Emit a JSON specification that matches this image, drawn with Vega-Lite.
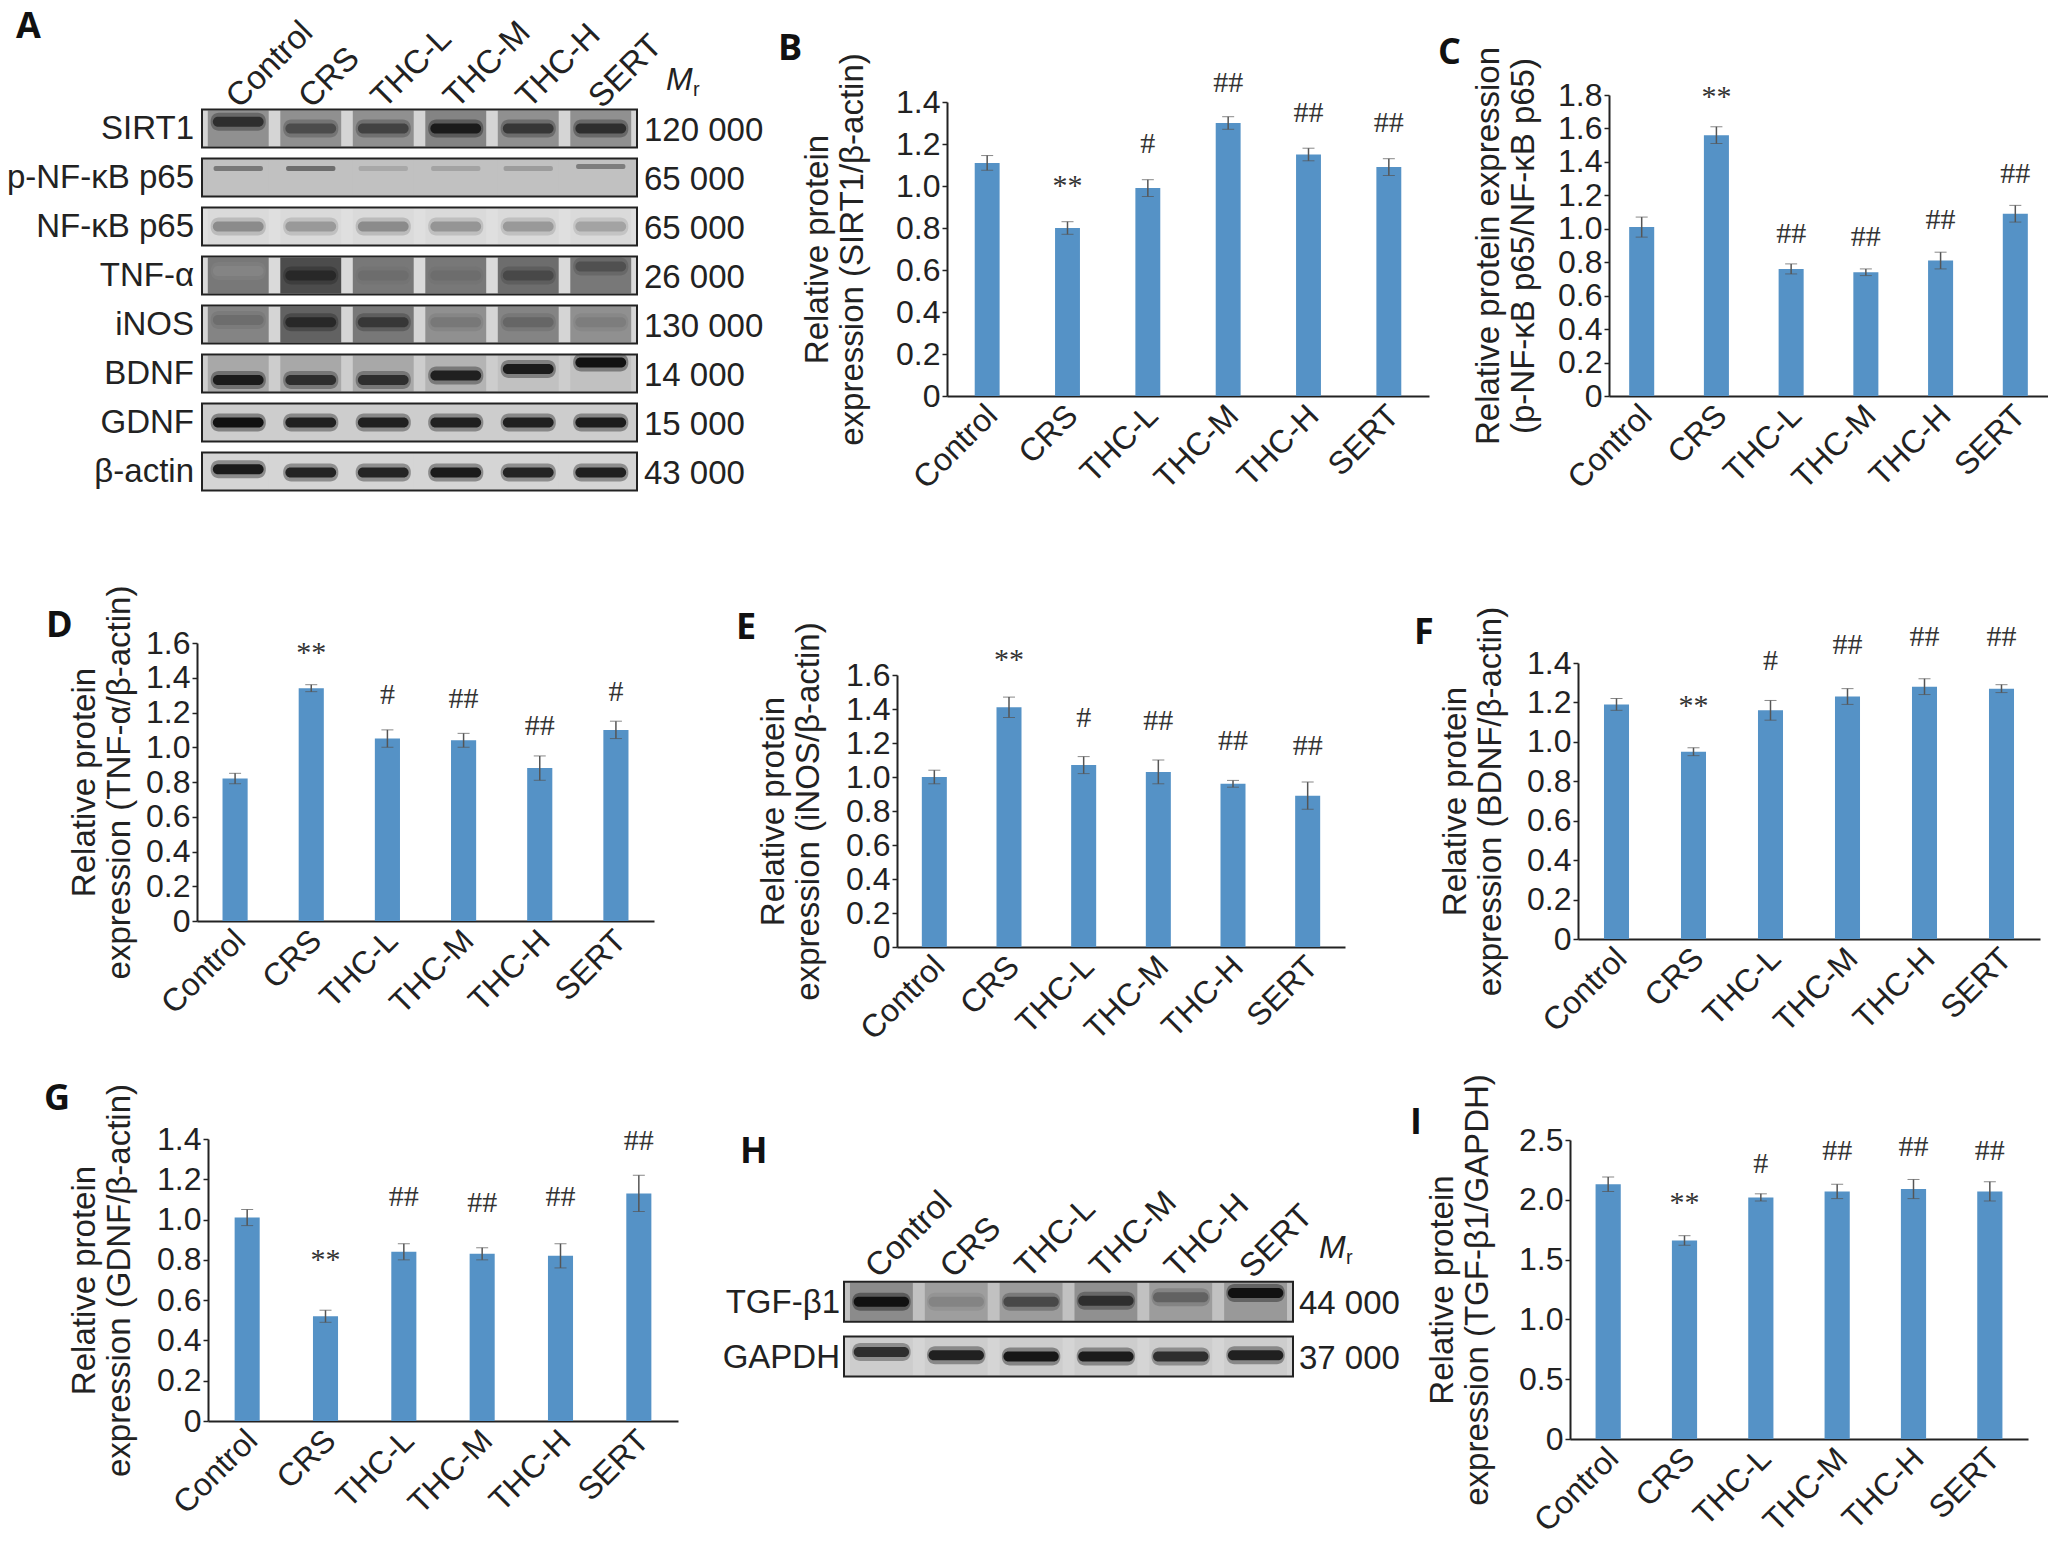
{
  "$schema": "https://vega.github.io/schema/vega-lite/v6.json",
  "description": "Western blots and relative protein expression for nine panels.",
  "padding": 0,
  "background": "white",
  "bounds": "flush",
  "align": "each",
  "columns": 3,
  "spacing": 0,
  "config": {
    "font": "Liberation Sans",
    "view": {"stroke": null},
    "title": {"font": "Open Sans", "fontSize": 36, "fontWeight": "bold", "anchor": "start", "frame": "group", "color": "#111", "baseline": "bottom"},
    "axis": {"grid": false, "labelFont": "Liberation Sans", "titleFont": "Liberation Sans", "labelFontSize": 32, "titleFontSize": 33, "titleFontWeight": "normal", "labelColor": "#222", "titleColor": "#222", "domainColor": "#222", "domainWidth": 2, "tickColor": "#222", "tickWidth": 1.5, "tickSize": 5, "labelOverlap": false, "labelBound": false},
    "axisX": {"labelAngle": -45, "labelAlign": "right", "labelBaseline": "middle", "ticks": false, "labelPadding": 14, "labelFontSize": 32, "labelOffset": 5}
  },
  "datasets": {
    "b": [
      {"group": "Control", "value": 1.11, "err": 0.035, "sig": "", "sig_y": 1.3},
      {"group": "CRS", "value": 0.8, "err": 0.03, "sig": "**", "sig_y": 1.0},
      {"group": "THC-L", "value": 0.99, "err": 0.04, "sig": "#", "sig_y": 1.2},
      {"group": "THC-M", "value": 1.3, "err": 0.03, "sig": "##", "sig_y": 1.49},
      {"group": "THC-H", "value": 1.15, "err": 0.03, "sig": "##", "sig_y": 1.35},
      {"group": "SERT", "value": 1.09, "err": 0.04, "sig": "##", "sig_y": 1.3}
    ],
    "c": [
      {"group": "Control", "value": 1.01, "err": 0.06, "sig": "", "sig_y": 1.2},
      {"group": "CRS", "value": 1.56, "err": 0.05, "sig": "**", "sig_y": 1.79},
      {"group": "THC-L", "value": 0.76, "err": 0.03, "sig": "##", "sig_y": 0.97},
      {"group": "THC-M", "value": 0.74, "err": 0.02, "sig": "##", "sig_y": 0.95},
      {"group": "THC-H", "value": 0.81, "err": 0.05, "sig": "##", "sig_y": 1.05},
      {"group": "SERT", "value": 1.09, "err": 0.05, "sig": "##", "sig_y": 1.33}
    ],
    "d": [
      {"group": "Control", "value": 0.82, "err": 0.03, "sig": "", "sig_y": 1.0},
      {"group": "CRS", "value": 1.34, "err": 0.02, "sig": "**", "sig_y": 1.54},
      {"group": "THC-L", "value": 1.05, "err": 0.05, "sig": "#", "sig_y": 1.3},
      {"group": "THC-M", "value": 1.04, "err": 0.04, "sig": "##", "sig_y": 1.28},
      {"group": "THC-H", "value": 0.88, "err": 0.07, "sig": "##", "sig_y": 1.12},
      {"group": "SERT", "value": 1.1, "err": 0.05, "sig": "#", "sig_y": 1.32}
    ],
    "e": [
      {"group": "Control", "value": 1.0, "err": 0.04, "sig": "", "sig_y": 1.2},
      {"group": "CRS", "value": 1.41, "err": 0.06, "sig": "**", "sig_y": 1.69},
      {"group": "THC-L", "value": 1.07, "err": 0.05, "sig": "#", "sig_y": 1.35},
      {"group": "THC-M", "value": 1.03, "err": 0.07, "sig": "##", "sig_y": 1.33},
      {"group": "THC-H", "value": 0.96, "err": 0.02, "sig": "##", "sig_y": 1.21},
      {"group": "SERT", "value": 0.89, "err": 0.08, "sig": "##", "sig_y": 1.18}
    ],
    "f": [
      {"group": "Control", "value": 1.19, "err": 0.03, "sig": "", "sig_y": 1.3},
      {"group": "CRS", "value": 0.95, "err": 0.02, "sig": "**", "sig_y": 1.18},
      {"group": "THC-L", "value": 1.16, "err": 0.05, "sig": "#", "sig_y": 1.41},
      {"group": "THC-M", "value": 1.23, "err": 0.04, "sig": "##", "sig_y": 1.49},
      {"group": "THC-H", "value": 1.28, "err": 0.04, "sig": "##", "sig_y": 1.53},
      {"group": "SERT", "value": 1.27, "err": 0.02, "sig": "##", "sig_y": 1.53}
    ],
    "g": [
      {"group": "Control", "value": 1.01, "err": 0.04, "sig": "", "sig_y": 1.2},
      {"group": "CRS", "value": 0.52, "err": 0.03, "sig": "**", "sig_y": 0.8},
      {"group": "THC-L", "value": 0.84, "err": 0.04, "sig": "##", "sig_y": 1.11},
      {"group": "THC-M", "value": 0.83, "err": 0.03, "sig": "##", "sig_y": 1.08},
      {"group": "THC-H", "value": 0.82, "err": 0.06, "sig": "##", "sig_y": 1.11},
      {"group": "SERT", "value": 1.13, "err": 0.09, "sig": "##", "sig_y": 1.39}
    ],
    "i": [
      {"group": "Control", "value": 2.13, "err": 0.06, "sig": "", "sig_y": 2.4},
      {"group": "CRS", "value": 1.66, "err": 0.04, "sig": "**", "sig_y": 1.97},
      {"group": "THC-L", "value": 2.02, "err": 0.03, "sig": "#", "sig_y": 2.3},
      {"group": "THC-M", "value": 2.07, "err": 0.06, "sig": "##", "sig_y": 2.41},
      {"group": "THC-H", "value": 2.09, "err": 0.08, "sig": "##", "sig_y": 2.44},
      {"group": "SERT", "value": 2.07, "err": 0.08, "sig": "##", "sig_y": 2.41}
    ],
    "blot_a": [
      {"protein": "SIRT1", "mr": "120 000", "bg": 0.12, "shift": 0},
      {"protein": "p-NF-κB p65", "mr": "65 000", "bg": 0.2, "shift": 0},
      {"protein": "NF-κB p65", "mr": "65 000", "bg": 0.08, "shift": 0},
      {"protein": "TNF-α", "mr": "26 000", "bg": 0.1, "shift": 0},
      {"protein": "iNOS", "mr": "130 000", "bg": 0.12, "shift": 0},
      {"protein": "BDNF", "mr": "14 000", "bg": 0.15, "shift": 0},
      {"protein": "GDNF", "mr": "15 000", "bg": 0.15, "shift": 0},
      {"protein": "β-actin", "mr": "43 000", "bg": 0.12, "shift": 0}
    ],
    "lanes_a": [
      {"protein": "SIRT1", "lane": "Control", "smear": 0.4, "band": 0.85, "shift": -0.3, "base": 0},
      {"protein": "SIRT1", "lane": "CRS", "smear": 0.4, "band": 0.7, "shift": 0, "base": 0},
      {"protein": "SIRT1", "lane": "THC-L", "smear": 0.4, "band": 0.75, "shift": 0, "base": 0},
      {"protein": "SIRT1", "lane": "THC-M", "smear": 0.45, "band": 0.95, "shift": 0, "base": 0},
      {"protein": "SIRT1", "lane": "THC-H", "smear": 0.4, "band": 0.8, "shift": 0, "base": 0},
      {"protein": "SIRT1", "lane": "SERT", "smear": 0.4, "band": 0.85, "shift": 0, "base": 0},
      {"protein": "p-NF-κB p65", "lane": "Control", "smear": 0.2, "band": 0.5, "shift": -0.4, "base": 0},
      {"protein": "p-NF-κB p65", "lane": "CRS", "smear": 0.2, "band": 0.55, "shift": -0.4, "base": 0},
      {"protein": "p-NF-κB p65", "lane": "THC-L", "smear": 0.2, "band": 0.3, "shift": -0.4, "base": 0},
      {"protein": "p-NF-κB p65", "lane": "THC-M", "smear": 0.2, "band": 0.32, "shift": -0.4, "base": 0},
      {"protein": "p-NF-κB p65", "lane": "THC-H", "smear": 0.2, "band": 0.35, "shift": -0.4, "base": 0},
      {"protein": "p-NF-κB p65", "lane": "SERT", "smear": 0.2, "band": 0.48, "shift": -0.5, "base": 0},
      {"protein": "NF-κB p65", "lane": "Control", "smear": 0.1, "band": 0.42, "shift": 0, "base": 0},
      {"protein": "NF-κB p65", "lane": "CRS", "smear": 0.1, "band": 0.36, "shift": 0, "base": 0},
      {"protein": "NF-κB p65", "lane": "THC-L", "smear": 0.1, "band": 0.42, "shift": 0, "base": 0},
      {"protein": "NF-κB p65", "lane": "THC-M", "smear": 0.1, "band": 0.38, "shift": 0, "base": 0},
      {"protein": "NF-κB p65", "lane": "THC-H", "smear": 0.1, "band": 0.36, "shift": 0, "base": 0},
      {"protein": "NF-κB p65", "lane": "SERT", "smear": 0.1, "band": 0.32, "shift": 0, "base": 0},
      {"protein": "TNF-α", "lane": "Control", "smear": 0.5, "band": 0.45, "shift": -0.2, "base": 0},
      {"protein": "TNF-α", "lane": "CRS", "smear": 0.7, "band": 0.88, "shift": 0, "base": 0},
      {"protein": "TNF-α", "lane": "THC-L", "smear": 0.5, "band": 0.55, "shift": 0, "base": 0},
      {"protein": "TNF-α", "lane": "THC-M", "smear": 0.5, "band": 0.55, "shift": 0, "base": 0},
      {"protein": "TNF-α", "lane": "THC-H", "smear": 0.55, "band": 0.72, "shift": 0, "base": 0},
      {"protein": "TNF-α", "lane": "SERT", "smear": 0.5, "band": 0.68, "shift": -0.4, "base": 0},
      {"protein": "iNOS", "lane": "Control", "smear": 0.45, "band": 0.55, "shift": -0.2, "base": 0},
      {"protein": "iNOS", "lane": "CRS", "smear": 0.6, "band": 0.88, "shift": -0.1, "base": 0},
      {"protein": "iNOS", "lane": "THC-L", "smear": 0.5, "band": 0.8, "shift": -0.1, "base": 0},
      {"protein": "iNOS", "lane": "THC-M", "smear": 0.4, "band": 0.5, "shift": -0.1, "base": 0},
      {"protein": "iNOS", "lane": "THC-H", "smear": 0.45, "band": 0.58, "shift": -0.1, "base": 0},
      {"protein": "iNOS", "lane": "SERT", "smear": 0.4, "band": 0.48, "shift": -0.1, "base": 0},
      {"protein": "BDNF", "lane": "Control", "smear": 0.3, "band": 0.95, "shift": 0.3, "base": 0},
      {"protein": "BDNF", "lane": "CRS", "smear": 0.3, "band": 0.85, "shift": 0.3, "base": 0},
      {"protein": "BDNF", "lane": "THC-L", "smear": 0.3, "band": 0.85, "shift": 0.3, "base": 0},
      {"protein": "BDNF", "lane": "THC-M", "smear": 0.25, "band": 0.92, "shift": 0.1, "base": 0},
      {"protein": "BDNF", "lane": "THC-H", "smear": 0.2, "band": 0.95, "shift": -0.2, "base": 0},
      {"protein": "BDNF", "lane": "SERT", "smear": 0.2, "band": 1, "shift": -0.5, "base": 0},
      {"protein": "GDNF", "lane": "Control", "smear": 0.15, "band": 1, "shift": 0, "base": 0},
      {"protein": "GDNF", "lane": "CRS", "smear": 0.15, "band": 0.92, "shift": 0, "base": 0},
      {"protein": "GDNF", "lane": "THC-L", "smear": 0.15, "band": 0.92, "shift": 0, "base": 0},
      {"protein": "GDNF", "lane": "THC-M", "smear": 0.15, "band": 0.92, "shift": 0, "base": 0},
      {"protein": "GDNF", "lane": "THC-H", "smear": 0.15, "band": 0.92, "shift": 0, "base": 0},
      {"protein": "GDNF", "lane": "SERT", "smear": 0.15, "band": 0.95, "shift": 0, "base": 0},
      {"protein": "β-actin", "lane": "Control", "smear": 0.12, "band": 0.95, "shift": -0.1, "base": 0},
      {"protein": "β-actin", "lane": "CRS", "smear": 0.12, "band": 0.9, "shift": 0.05, "base": 0},
      {"protein": "β-actin", "lane": "THC-L", "smear": 0.12, "band": 0.9, "shift": 0.05, "base": 0},
      {"protein": "β-actin", "lane": "THC-M", "smear": 0.12, "band": 0.95, "shift": 0.05, "base": 0},
      {"protein": "β-actin", "lane": "THC-H", "smear": 0.12, "band": 0.9, "shift": 0.05, "base": 0},
      {"protein": "β-actin", "lane": "SERT", "smear": 0.12, "band": 0.92, "shift": 0.05, "base": 0}
    ],
    "blot_h": [
      {"protein": "TGF-β1", "mr": "44 000", "bg": 0.2, "shift": 0},
      {"protein": "GAPDH", "mr": "37 000", "bg": 0.12, "shift": 0}
    ],
    "lanes_h": [
      {"protein": "TGF-β1", "lane": "Control", "smear": 0.42, "band": 1, "shift": 0, "base": 0},
      {"protein": "TGF-β1", "lane": "CRS", "smear": 0.34, "band": 0.45, "shift": 0, "base": 0},
      {"protein": "TGF-β1", "lane": "THC-L", "smear": 0.35, "band": 0.72, "shift": 0, "base": 0},
      {"protein": "TGF-β1", "lane": "THC-M", "smear": 0.4, "band": 0.85, "shift": -0.05, "base": 0},
      {"protein": "TGF-β1", "lane": "THC-H", "smear": 0.35, "band": 0.6, "shift": -0.2, "base": 0},
      {"protein": "TGF-β1", "lane": "SERT", "smear": 0.36, "band": 1, "shift": -0.4, "base": 0},
      {"protein": "GAPDH", "lane": "Control", "smear": 0.15, "band": 0.85, "shift": -0.2, "base": 0},
      {"protein": "GAPDH", "lane": "CRS", "smear": 0.15, "band": 0.92, "shift": -0.05, "base": 0},
      {"protein": "GAPDH", "lane": "THC-L", "smear": 0.15, "band": 0.97, "shift": 0, "base": 0},
      {"protein": "GAPDH", "lane": "THC-M", "smear": 0.15, "band": 0.95, "shift": 0, "base": 0},
      {"protein": "GAPDH", "lane": "THC-H", "smear": 0.15, "band": 0.85, "shift": 0, "base": 0},
      {"protein": "GAPDH", "lane": "SERT", "smear": 0.15, "band": 0.92, "shift": -0.05, "base": 0}
    ]
  },
  "concat": [
    {
      "width": 800, "height": 520,
      "title": {"text": "A", "dx": 16, "dy": 50},
      "resolve": {"scale": {"x": "independent"}},
      "layer": [
        {
          "data": {"name": "blot_a"},
          "layer": [
            {
              "mark": {"type": "rect", "height": 38},
              "encoding": {
                "y": {"field": "protein", "type": "nominal", "axis": null, "scale": {"domain": ["header", "SIRT1", "p-NF-κB p65", "NF-κB p65", "TNF-α", "iNOS", "BDNF", "GDNF", "β-actin"], "range": [55, 496], "paddingInner": 0.22, "paddingOuter": 0.11}},
                "yOffset": {"field": "shift", "type": "quantitative", "scale": {"domain": [-1, 1], "range": [-3, 41]}},
                "x": {"datum": 0, "type": "quantitative", "axis": null, "scale": {"domain": [0, 1], "range": [202, 637]}},
                "x2": {"datum": 1},
                "color": {"field": "bg", "type": "quantitative", "legend": null, "scale": {"domain": [0, 1], "range": ["#f4f4f4", "#111111"]}}
              }
            },
            {
              "mark": {"type": "text", "align": "right", "dx": -8, "fontSize": 33, "color": "#222"},
              "encoding": {
                "y": {"field": "protein", "type": "nominal"},
                "x": {"datum": 0, "type": "quantitative"},
                "text": {"field": "protein"}
              }
            },
            {
              "mark": {"type": "text", "align": "left", "dx": 7, "dy": 2, "fontSize": 33, "color": "#222"},
              "encoding": {
                "y": {"field": "protein", "type": "nominal"},
                "x": {"datum": 1, "type": "quantitative"},
                "text": {"field": "mr"}
              }
            },
            {
              "data": {"values": [{"protein": "header", "m": "M"}]},
              "mark": {"type": "text", "align": "left", "dx": 29, "fontSize": 32, "fontStyle": "italic", "color": "#222"},
              "encoding": {
                "y": {"field": "protein", "type": "nominal"},
                "x": {"datum": 1, "type": "quantitative"},
                "text": {"field": "m"}
              }
            },
            {
              "data": {"values": [{"protein": "header", "r": "r"}]},
              "mark": {"type": "text", "align": "left", "dx": 56, "dy": 10, "fontSize": 20, "color": "#222"},
              "encoding": {
                "y": {"field": "protein", "type": "nominal"},
                "x": {"datum": 1, "type": "quantitative"},
                "text": {"field": "r"}
              }
            }
          ]
        },
        {
          "data": {"name": "lanes_a"},
          "layer": [
            {
              "mark": {"type": "rect", "width": {"band": 0.84}, "height": 36},
              "encoding": {
                "y": {"field": "protein", "type": "nominal"},
                "yOffset": {"field": "base", "type": "quantitative", "scale": {"domain": [-1, 1], "range": [-3, 41]}},
                "x": {"field": "lane", "type": "nominal", "sort": null, "title": null, "scale": {"domain": ["Control", "CRS", "THC-L", "THC-M", "THC-H", "SERT"], "range": [202, 637], "paddingInner": 0, "paddingOuter": 0}, "axis": {"orient": "top", "offset": -102, "domain": false, "labelAngle": -45, "labelAlign": "left", "labelBaseline": "middle", "labelFontSize": 33, "labelOffset": -6, "labelPadding": 0}},
                "color": {"field": "smear", "type": "quantitative"}
              }
            },
            {
              "transform": [{"filter": "datum.protein != 'p-NF-κB p65'"}],
              "mark": {"type": "rect", "height": 18, "width": {"band": 0.76}, "cornerRadius": 8, "opacity": 0.4},
              "encoding": {
                "y": {"field": "protein", "type": "nominal"},
                "yOffset": {"field": "shift", "type": "quantitative", "scale": {"domain": [-1, 1], "range": [-3, 41]}},
                "x": {"field": "lane", "type": "nominal", "sort": null},
                "color": {"field": "band", "type": "quantitative"}
              }
            },
            {
              "transform": [{"filter": "datum.protein != 'p-NF-κB p65'"}],
              "mark": {"type": "rect", "height": 10, "width": {"band": 0.7}, "cornerRadius": 5},
              "encoding": {
                "y": {"field": "protein", "type": "nominal"},
                "yOffset": {"field": "shift", "type": "quantitative", "scale": {"domain": [-1, 1], "range": [-3, 41]}},
                "x": {"field": "lane", "type": "nominal", "sort": null},
                "color": {"field": "band", "type": "quantitative"}
              }
            },
            {
              "transform": [{"filter": "datum.protein == 'p-NF-κB p65'"}],
              "mark": {"type": "rect", "height": 5, "width": {"band": 0.68}, "cornerRadius": 2},
              "encoding": {
                "y": {"field": "protein", "type": "nominal"},
                "yOffset": {"field": "shift", "type": "quantitative", "scale": {"domain": [-1, 1], "range": [-3, 41]}},
                "x": {"field": "lane", "type": "nominal", "sort": null},
                "color": {"field": "band", "type": "quantitative"}
              }
            }
          ]
        },
        {
          "data": {"name": "blot_a"},
          "mark": {"type": "rect", "height": 38, "fill": "transparent", "stroke": "#222", "strokeWidth": 2},
          "encoding": {
            "y": {"field": "protein", "type": "nominal"},
            "yOffset": {"field": "shift", "type": "quantitative", "scale": {"domain": [-1, 1], "range": [-3, 41]}},
            "x": {"datum": 0, "type": "quantitative", "axis": null, "scale": {"domain": [0, 1], "range": [202, 637]}},
            "x2": {"datum": 1}
          }
        }
      ]
    },
    {
      "width": 680, "height": 520,
      "title": {"text": "B", "dx": -22, "dy": 72},
      "data": {"name": "b"},
      "resolve": {"axis": {"y": "independent"}},
      "layer": [
        {
          "mark": {"type": "bar", "color": "#5592c6"},
          "encoding": {
            "x": {"field": "group", "type": "nominal", "sort": null, "title": null, "scale": {"range": [147, 629], "paddingInner": 0.69, "paddingOuter": 0.345}, "axis": {"offset": -124}},
            "y": {"field": "value", "type": "quantitative", "scale": {"domain": [0, 1.4], "range": [396, 102], "nice": false}, "axis": {"offset": -147, "titlePadding": 26, "values": [0, 0.2, 0.4, 0.6, 0.8, 1.0, 1.2, 1.4], "labelExpr": "datum.value == 0 ? '0' : format(datum.value, '.1f')", "title": ["Relative protein", "expression (SIRT1/β-actin)"]}}
          }
        },
        {
          "mark": {"type": "errorbar", "ticks": {"size": 12, "strokeWidth": 1.5}, "rule": {"strokeWidth": 1.5}, "color": "#555"},
          "encoding": {
            "x": {"field": "group", "type": "nominal", "sort": null},
            "y": {"field": "value", "type": "quantitative", "axis": null},
            "yError": {"field": "err"}
          }
        },
        {
          "mark": {"type": "text", "fontSize": 30, "font": "Liberation Serif", "color": "#333"},
          "encoding": {
            "x": {"field": "group", "type": "nominal", "sort": null},
            "y": {"field": "sig_y", "type": "quantitative", "axis": null},
            "text": {"field": "sig"}
          }
        }
      ]
    },
    {
      "width": 568, "height": 520,
      "title": {"text": "C", "dx": -42, "dy": 76},
      "data": {"name": "c"},
      "resolve": {"axis": {"y": "independent"}},
      "layer": [
        {
          "mark": {"type": "bar", "color": "#5592c6"},
          "encoding": {
            "x": {"field": "group", "type": "nominal", "sort": null, "title": null, "scale": {"range": [129, 568], "paddingInner": 0.665, "paddingOuter": 0.27}, "axis": {"offset": -124}},
            "y": {"field": "value", "type": "quantitative", "scale": {"domain": [0, 1.8], "range": [396, 95], "nice": false}, "axis": {"offset": -129, "titlePadding": 17, "values": [0, 0.2, 0.4, 0.6, 0.8, 1.0, 1.2, 1.4, 1.6, 1.8], "labelExpr": "datum.value == 0 ? '0' : format(datum.value, '.1f')", "title": ["Relative protein expression", "(p-NF-κB p65/NF-κB p65)"]}}
          }
        },
        {
          "mark": {"type": "errorbar", "ticks": {"size": 12, "strokeWidth": 1.5}, "rule": {"strokeWidth": 1.5}, "color": "#555"},
          "encoding": {
            "x": {"field": "group", "type": "nominal", "sort": null},
            "y": {"field": "value", "type": "quantitative", "axis": null},
            "yError": {"field": "err"}
          }
        },
        {
          "mark": {"type": "text", "fontSize": 30, "font": "Liberation Serif", "color": "#333"},
          "encoding": {
            "x": {"field": "group", "type": "nominal", "sort": null},
            "y": {"field": "sig_y", "type": "quantitative", "axis": null},
            "text": {"field": "sig"}
          }
        }
      ]
    },
    {
      "width": 800, "height": 540,
      "title": {"text": "D", "dx": 46, "dy": 129},
      "data": {"name": "d"},
      "resolve": {"axis": {"y": "independent"}},
      "layer": [
        {
          "mark": {"type": "bar", "color": "#5592c6"},
          "encoding": {
            "x": {"field": "group", "type": "nominal", "sort": null, "title": null, "scale": {"range": [197, 654], "paddingInner": 0.67, "paddingOuter": 0.335}, "axis": {"offset": -139}},
            "y": {"field": "value", "type": "quantitative", "scale": {"domain": [0, 1.6], "range": [401, 123], "nice": false}, "axis": {"offset": -197, "titlePadding": 9, "values": [0, 0.2, 0.4, 0.6, 0.8, 1.0, 1.2, 1.4, 1.6], "labelExpr": "datum.value == 0 ? '0' : format(datum.value, '.1f')", "title": ["Relative protein", "expression (TNF-α/β-actin)"]}}
          }
        },
        {
          "mark": {"type": "errorbar", "ticks": {"size": 12, "strokeWidth": 1.5}, "rule": {"strokeWidth": 1.5}, "color": "#555"},
          "encoding": {
            "x": {"field": "group", "type": "nominal", "sort": null},
            "y": {"field": "value", "type": "quantitative", "axis": null},
            "yError": {"field": "err"}
          }
        },
        {
          "mark": {"type": "text", "fontSize": 30, "font": "Liberation Serif", "color": "#333"},
          "encoding": {
            "x": {"field": "group", "type": "nominal", "sort": null},
            "y": {"field": "sig_y", "type": "quantitative", "axis": null},
            "text": {"field": "sig"}
          }
        }
      ]
    },
    {
      "width": 680, "height": 540,
      "title": {"text": "E", "dx": -64, "dy": 131},
      "data": {"name": "e"},
      "resolve": {"axis": {"y": "independent"}},
      "layer": [
        {
          "mark": {"type": "bar", "color": "#5592c6"},
          "encoding": {
            "x": {"field": "group", "type": "nominal", "sort": null, "title": null, "scale": {"range": [97, 545], "paddingInner": 0.665, "paddingOuter": 0.3325}, "axis": {"offset": -113}},
            "y": {"field": "value", "type": "quantitative", "scale": {"domain": [0, 1.6], "range": [427, 155], "nice": false}, "axis": {"offset": -97, "titlePadding": 20, "values": [0, 0.2, 0.4, 0.6, 0.8, 1.0, 1.2, 1.4, 1.6], "labelExpr": "datum.value == 0 ? '0' : format(datum.value, '.1f')", "title": ["Relative protein", "expression (iNOS/β-actin)"]}}
          }
        },
        {
          "mark": {"type": "errorbar", "ticks": {"size": 12, "strokeWidth": 1.5}, "rule": {"strokeWidth": 1.5}, "color": "#555"},
          "encoding": {
            "x": {"field": "group", "type": "nominal", "sort": null},
            "y": {"field": "value", "type": "quantitative", "axis": null},
            "yError": {"field": "err"}
          }
        },
        {
          "mark": {"type": "text", "fontSize": 30, "font": "Liberation Serif", "color": "#333"},
          "encoding": {
            "x": {"field": "group", "type": "nominal", "sort": null},
            "y": {"field": "sig_y", "type": "quantitative", "axis": null},
            "text": {"field": "sig"}
          }
        }
      ]
    },
    {
      "width": 568, "height": 540,
      "title": {"text": "F", "dx": -66, "dy": 136},
      "data": {"name": "f"},
      "resolve": {"axis": {"y": "independent"}},
      "layer": [
        {
          "mark": {"type": "bar", "color": "#5592c6"},
          "encoding": {
            "x": {"field": "group", "type": "nominal", "sort": null, "title": null, "scale": {"range": [98, 560], "paddingInner": 0.675, "paddingOuter": 0.3375}, "axis": {"offset": -121}},
            "y": {"field": "value", "type": "quantitative", "scale": {"domain": [0, 1.4], "range": [419, 143], "nice": false}, "axis": {"offset": -98, "titlePadding": 19, "values": [0, 0.2, 0.4, 0.6, 0.8, 1.0, 1.2, 1.4], "labelExpr": "datum.value == 0 ? '0' : format(datum.value, '.1f')", "title": ["Relative protein", "expression (BDNF/β-actin)"]}}
          }
        },
        {
          "mark": {"type": "errorbar", "ticks": {"size": 12, "strokeWidth": 1.5}, "rule": {"strokeWidth": 1.5}, "color": "#555"},
          "encoding": {
            "x": {"field": "group", "type": "nominal", "sort": null},
            "y": {"field": "value", "type": "quantitative", "axis": null},
            "yError": {"field": "err"}
          }
        },
        {
          "mark": {"type": "text", "fontSize": 30, "font": "Liberation Serif", "color": "#333"},
          "encoding": {
            "x": {"field": "group", "type": "nominal", "sort": null},
            "y": {"field": "sig_y", "type": "quantitative", "axis": null},
            "text": {"field": "sig"}
          }
        }
      ]
    },
    {
      "width": 800, "height": 481,
      "title": {"text": "G", "dx": 44, "dy": 62},
      "data": {"name": "g"},
      "resolve": {"axis": {"y": "independent"}},
      "layer": [
        {
          "mark": {"type": "bar", "color": "#5592c6"},
          "encoding": {
            "x": {"field": "group", "type": "nominal", "sort": null, "title": null, "scale": {"range": [208, 678], "paddingInner": 0.68, "paddingOuter": 0.34}, "axis": {"offset": -120}},
            "y": {"field": "value", "type": "quantitative", "scale": {"domain": [0, 1.4], "range": [361, 79], "nice": false}, "axis": {"offset": -208, "titlePadding": 20, "values": [0, 0.2, 0.4, 0.6, 0.8, 1.0, 1.2, 1.4], "labelExpr": "datum.value == 0 ? '0' : format(datum.value, '.1f')", "title": ["Relative protein", "expression (GDNF/β-actin)"]}}
          }
        },
        {
          "mark": {"type": "errorbar", "ticks": {"size": 12, "strokeWidth": 1.5}, "rule": {"strokeWidth": 1.5}, "color": "#555"},
          "encoding": {
            "x": {"field": "group", "type": "nominal", "sort": null},
            "y": {"field": "value", "type": "quantitative", "axis": null},
            "yError": {"field": "err"}
          }
        },
        {
          "mark": {"type": "text", "fontSize": 30, "font": "Liberation Serif", "color": "#333"},
          "encoding": {
            "x": {"field": "group", "type": "nominal", "sort": null},
            "y": {"field": "sig_y", "type": "quantitative", "axis": null},
            "text": {"field": "sig"}
          }
        }
      ]
    },
    {
      "width": 680, "height": 481,
      "title": {"text": "H", "dx": -60, "dy": 115},
      "resolve": {"scale": {"x": "independent"}},
      "layer": [
        {
          "data": {"name": "blot_h"},
          "layer": [
            {
              "mark": {"type": "rect", "height": 40},
              "encoding": {
                "y": {"field": "protein", "type": "nominal", "axis": null, "scale": {"domain": ["header", "TGF-β1", "GAPDH"], "range": [161, 325], "paddingInner": 0.26, "paddingOuter": 0.13}},
                "yOffset": {"field": "shift", "type": "quantitative", "scale": {"domain": [-1, 1], "range": [-2, 42]}},
                "x": {"datum": 0, "type": "quantitative", "axis": null, "scale": {"domain": [0, 1], "range": [44, 493]}},
                "x2": {"datum": 1},
                "color": {"field": "bg", "type": "quantitative", "legend": null, "scale": {"domain": [0, 1], "range": ["#f4f4f4", "#111111"]}}
              }
            },
            {
              "mark": {"type": "text", "align": "right", "dx": -4, "fontSize": 33, "color": "#222"},
              "encoding": {
                "y": {"field": "protein", "type": "nominal"},
                "x": {"datum": 0, "type": "quantitative"},
                "text": {"field": "protein"}
              }
            },
            {
              "mark": {"type": "text", "align": "left", "dx": 6, "dy": 1, "fontSize": 33, "color": "#222"},
              "encoding": {
                "y": {"field": "protein", "type": "nominal"},
                "x": {"datum": 1, "type": "quantitative"},
                "text": {"field": "mr"}
              }
            },
            {
              "data": {"values": [{"protein": "header", "m": "M"}]},
              "mark": {"type": "text", "align": "left", "dx": 26, "fontSize": 32, "fontStyle": "italic", "color": "#222"},
              "encoding": {
                "y": {"field": "protein", "type": "nominal"},
                "x": {"datum": 1, "type": "quantitative"},
                "text": {"field": "m"}
              }
            },
            {
              "data": {"values": [{"protein": "header", "r": "r"}]},
              "mark": {"type": "text", "align": "left", "dx": 53, "dy": 10, "fontSize": 20, "color": "#222"},
              "encoding": {
                "y": {"field": "protein", "type": "nominal"},
                "x": {"datum": 1, "type": "quantitative"},
                "text": {"field": "r"}
              }
            }
          ]
        },
        {
          "data": {"name": "lanes_h"},
          "layer": [
            {
              "mark": {"type": "rect", "width": {"band": 0.84}, "height": 38},
              "encoding": {
                "y": {"field": "protein", "type": "nominal"},
                "yOffset": {"field": "base", "type": "quantitative", "scale": {"domain": [-1, 1], "range": [-2, 42]}},
                "x": {"field": "lane", "type": "nominal", "sort": null, "title": null, "scale": {"domain": ["Control", "CRS", "THC-L", "THC-M", "THC-H", "SERT"], "range": [44, 493], "paddingInner": 0, "paddingOuter": 0}, "axis": {"orient": "top", "offset": -212, "domain": false, "labelAngle": -45, "labelAlign": "left", "labelBaseline": "middle", "labelFontSize": 33, "labelOffset": -10, "labelPadding": 0}},
                "color": {"field": "smear", "type": "quantitative"}
              }
            },
            {
              "mark": {"type": "rect", "height": 18, "width": {"band": 0.78}, "cornerRadius": 8, "opacity": 0.4},
              "encoding": {
                "y": {"field": "protein", "type": "nominal"},
                "yOffset": {"field": "shift", "type": "quantitative", "scale": {"domain": [-1, 1], "range": [-2, 42]}},
                "x": {"field": "lane", "type": "nominal", "sort": null},
                "color": {"field": "band", "type": "quantitative"}
              }
            },
            {
              "mark": {"type": "rect", "height": 10, "width": {"band": 0.74}, "cornerRadius": 5},
              "encoding": {
                "y": {"field": "protein", "type": "nominal"},
                "yOffset": {"field": "shift", "type": "quantitative", "scale": {"domain": [-1, 1], "range": [-2, 42]}},
                "x": {"field": "lane", "type": "nominal", "sort": null},
                "color": {"field": "band", "type": "quantitative"}
              }
            }
          ]
        },
        {
          "data": {"name": "blot_h"},
          "mark": {"type": "rect", "height": 40, "fill": "transparent", "stroke": "#222", "strokeWidth": 2},
          "encoding": {
            "y": {"field": "protein", "type": "nominal"},
            "yOffset": {"field": "shift", "type": "quantitative", "scale": {"domain": [-1, 1], "range": [-2, 42]}},
            "x": {"datum": 0, "type": "quantitative", "axis": null, "scale": {"domain": [0, 1], "range": [44, 493]}},
            "x2": {"datum": 1}
          }
        }
      ]
    },
    {
      "width": 568, "height": 481,
      "title": {"text": "I", "dx": -70, "dy": 86},
      "data": {"name": "i"},
      "resolve": {"axis": {"y": "independent"}},
      "layer": [
        {
          "mark": {"type": "bar", "color": "#5592c6"},
          "encoding": {
            "x": {"field": "group", "type": "nominal", "sort": null, "title": null, "scale": {"range": [90, 548], "paddingInner": 0.67, "paddingOuter": 0.335}, "axis": {"offset": -102}},
            "y": {"field": "value", "type": "quantitative", "scale": {"domain": [0, 2.5], "range": [379, 80], "nice": false}, "axis": {"offset": -90, "titlePadding": 24, "values": [0, 0.5, 1.0, 1.5, 2.0, 2.5], "labelExpr": "datum.value == 0 ? '0' : format(datum.value, '.1f')", "title": ["Relative protein", "expression (TGF-β1/GAPDH)"]}}
          }
        },
        {
          "mark": {"type": "errorbar", "ticks": {"size": 12, "strokeWidth": 1.5}, "rule": {"strokeWidth": 1.5}, "color": "#555"},
          "encoding": {
            "x": {"field": "group", "type": "nominal", "sort": null},
            "y": {"field": "value", "type": "quantitative", "axis": null},
            "yError": {"field": "err"}
          }
        },
        {
          "mark": {"type": "text", "fontSize": 30, "font": "Liberation Serif", "color": "#333"},
          "encoding": {
            "x": {"field": "group", "type": "nominal", "sort": null},
            "y": {"field": "sig_y", "type": "quantitative", "axis": null},
            "text": {"field": "sig"}
          }
        }
      ]
    }
  ]
}
